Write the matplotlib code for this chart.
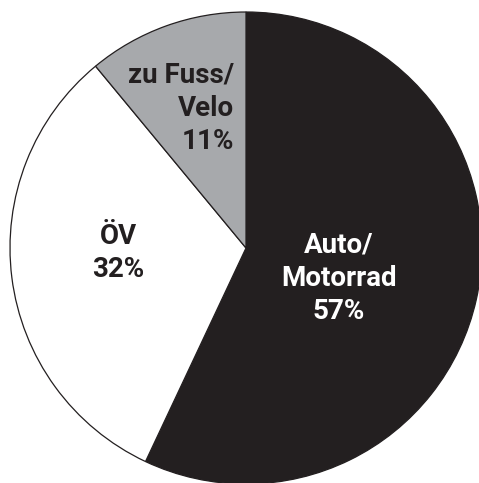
import matplotlib.pyplot as plt

labels = ["Auto/\nMotorrad", "ÖV", "zu Fuss/\nVelo"]
shares = [57, 32, 11]
colors = ["#231f20", "#ffffff", "#a7a9ac"]
text_colors = ["white", "#231f20", "#231f20"]

fig = plt.figure(figsize=(4.79, 4.83), dpi=100)
ax = fig.add_axes([0, 0, 1, 1])

ax.pie(shares, colors=colors, startangle=90, counterclock=False,
       center=(246, 235), radius=236,
       wedgeprops=dict(edgecolor="#231f20", linewidth=0.9))

# pie() resets the limits, so set them afterwards
ax.set_xlim(0, 479)
ax.set_ylim(0, 483)
ax.set_aspect("equal")
ax.axis("off")

# label positions (pixel-ish coords, y from bottom)
pos = [(339, 205, "center"), (118, 230, "center"), (234, 375, "right")]
for (x, y, ha), lab, s, tc in zip(pos, labels, shares, text_colors):
    ax.text(x, y, f"{lab}\n{s}%", ha=ha, va="center", multialignment=ha,
            fontsize=20, fontweight="bold", color=tc, family="Roboto",
            linespacing=1.3)

fig.savefig("out.png", dpi=100)
